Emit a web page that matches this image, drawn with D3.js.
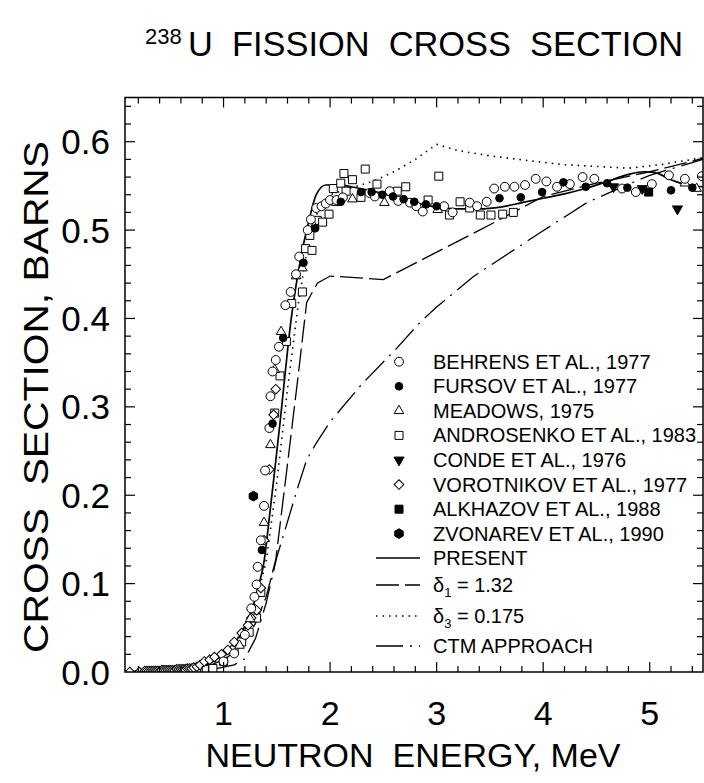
<!DOCTYPE html>
<html>
<head>
<meta charset="utf-8">
<script src="https://cdn.jsdelivr.net/npm/d3@7"></script>
<style>
  html, body { margin: 0; padding: 0; background: #fff; }
  svg { display: block; font-family: "Liberation Sans", Arial, sans-serif; }
</style>
</head>
<body>
<svg id="chart" width="704" height="783"></svg>
<script>
// ---- data: neutron energy (MeV) vs fission cross section (barns) ----
const energyTicks = [1, 2, 3, 4, 5];
const sigmaTicks = [0.0, 0.1, 0.2, 0.3, 0.4, 0.5, 0.6];

const behrens = [[1.0,0.012],[1.1,0.021],[1.2,0.042],[1.26,0.072],[1.29,0.085],[1.31,0.099],[1.32,0.119],
  [1.35,0.149],[1.38,0.188],[1.39,0.228],[1.43,0.276],[1.44,0.312],[1.46,0.34],[1.49,0.353],[1.52,0.368],
  [1.58,0.415],[1.63,0.43],[1.68,0.45],[1.71,0.47],[1.79,0.5],[1.82,0.512],[1.87,0.525],[1.92,0.527],
  [1.96,0.53],[2.0,0.534],[2.06,0.534],[2.12,0.537],[2.37,0.542],[2.42,0.538],[2.56,0.544],[2.64,0.533],
  [2.75,0.531],[2.81,0.527],[2.87,0.521],[3.07,0.527],[3.15,0.52],[3.31,0.531],[3.38,0.527],[3.47,0.532],
  [3.54,0.547],[3.64,0.549],[3.73,0.549],[3.83,0.551],[3.93,0.558],[4.03,0.555],[4.13,0.549],[4.25,0.552],
  [4.37,0.56],[4.48,0.558],[4.74,0.547],[4.87,0.543],[5.02,0.552],[5.18,0.562],[5.33,0.558],[5.49,0.561]];

const fursov = [[1.36,0.138],[1.46,0.281],[1.56,0.378],[1.75,0.463],[1.86,0.502],[2.10,0.532],[2.29,0.543],
  [2.39,0.543],[2.49,0.54],[2.59,0.538],[2.69,0.535],[2.79,0.532],[2.9,0.529],[3.0,0.527],[3.59,0.536],
  [3.79,0.537],[3.99,0.543],[4.19,0.554],[4.40,0.549],[4.60,0.553],[4.79,0.548],[5.2,0.545],[5.40,0.548]];

const meadows = [[1.15,0.03],[1.25,0.06],[1.38,0.169],[1.44,0.257],[1.48,0.342],[1.54,0.385],[1.68,0.448],
  [1.74,0.457],[1.85,0.504],[2.06,0.531],[2.21,0.535],[2.51,0.531],[3.01,0.523],[5.33,0.553],[5.44,0.547]];

const androsenko = [[0.34,0.001],[0.40,0.001],[0.46,0.002],[0.52,0.002],[0.58,0.002],[0.64,0.003],
  [0.70,0.003],[0.76,0.004],[0.82,0.003],[0.9,0.004],[1.0,0.012],[1.1,0.025],[1.17,0.034],[1.24,0.045],
  [1.31,0.061],[1.35,0.09],
  [1.48,0.293],[1.53,0.335],[1.59,0.374],[1.64,0.417],[1.74,0.43],[1.77,0.479],[1.83,0.477],[1.81,0.494],
  [1.88,0.511],[1.93,0.509],[1.99,0.518],[2.03,0.547],[2.10,0.553],[2.13,0.564],[2.15,0.544],[2.21,0.557],
  [2.29,0.537],[2.33,0.569],[2.44,0.552],[2.63,0.544],[2.71,0.549],[2.92,0.534],[3.02,0.561],[3.12,0.517],
  [3.22,0.532],[3.31,0.525],[3.41,0.517],[3.51,0.517],[3.62,0.518],[3.72,0.52]];

const conde = [[4.66,0.549],[4.93,0.547],[5.26,0.524]];

const vorotnikov = [[0.12,0.0],[0.21,0.0],[0.26,0.001],[0.28,0.001],[0.30,0.001],[0.32,0.001],[0.34,0.001],
  [0.36,0.001],[0.38,0.001],[0.40,0.001],[0.42,0.002],[0.44,0.002],[0.46,0.002],[0.48,0.002],[0.50,0.002],
  [0.52,0.002],[0.54,0.002],[0.56,0.003],[0.58,0.003],[0.60,0.003],[0.62,0.003],[0.64,0.003],[0.66,0.004],
  [0.68,0.004],[0.70,0.004],[0.72,0.005],[0.75,0.006],[0.78,0.008],[0.82,0.012],[0.87,0.014],[0.915,0.017],
  [0.98,0.02],[1.04,0.025],[1.10,0.034],[1.17,0.044],[1.23,0.053],[1.26,0.061],[1.31,0.07],[1.35,0.095],
  [1.38,0.149],[1.43,0.229],[1.47,0.291],[1.49,0.32]];

const alkhazov = [[4.99,0.543]];
const zvonarev = [[1.28,0.199]];

// ---- calculated curves ----
const present = [[0.075,0.0005],[0.4,0.001],[0.6,0.002],[0.8,0.006],[0.9,0.012],[1.0,0.02],[1.1,0.032],
  [1.2,0.052],[1.27,0.072],[1.33,0.098],[1.38,0.125],[1.43,0.175],[1.48,0.228],[1.53,0.282],[1.58,0.34],
  [1.63,0.395],[1.68,0.437],[1.74,0.478],[1.8,0.51],[1.87,0.54],[1.96,0.551],[2.1,0.551],[2.2,0.549],
  [2.4,0.544],[2.6,0.538],[2.8,0.531],[3.0,0.526],[3.2,0.524],[3.4,0.524],[3.6,0.526],[3.8,0.531],
  [4.0,0.536],[4.2,0.541],[4.4,0.547],[4.6,0.555],[4.8,0.563],[4.95,0.566],[5.05,0.565],[5.2,0.557],
  [5.35,0.551],[5.5,0.549]];

const delta1 = [[0.075,0.0005],[0.6,0.002],[0.8,0.005],[0.9,0.009],[1.0,0.014],[1.1,0.022],[1.2,0.035],
  [1.3,0.055],[1.4,0.085],[1.49,0.127],[1.6,0.235],[1.7,0.335],[1.78,0.418],[1.88,0.44],[2.0,0.448],
  [2.5,0.444],[3.0,0.475],[3.5,0.506],[4.0,0.538],[4.5,0.553],[5.0,0.566],[5.5,0.581]];

const delta3 = [[0.075,0.0005],[0.6,0.002],[0.8,0.005],[0.9,0.01],[1.0,0.017],[1.1,0.028],[1.2,0.047],
  [1.3,0.078],[1.4,0.125],[1.5,0.215],[1.6,0.32],[1.7,0.415],[1.8,0.49],[1.9,0.527],[2.0,0.54],
  [2.2,0.548],[2.4,0.555],[2.6,0.566],[2.8,0.58],[3.0,0.597],[3.2,0.59],[3.5,0.584],[3.9,0.578],
  [4.2,0.574],[4.5,0.572],[4.8,0.57],[5.1,0.574],[5.5,0.582]];

const ctm = [[0.075,0.0002],[0.6,0.001],[0.9,0.003],[1.1,0.008],[1.2,0.015],[1.3,0.038],[1.4,0.078],
  [1.5,0.13],[1.6,0.17],[1.7,0.21],[1.78,0.24],[1.87,0.259],[2.0,0.283],[2.3,0.326],[2.6,0.363],
  [2.84,0.395],[3.0,0.413],[3.34,0.447],[3.97,0.497],[4.41,0.531],[4.69,0.546],[5.0,0.562],[5.5,0.58]];

// ---- layout ----
const svg = d3.select("#chart");
const L = 125, R = 703, T = 97.5, B = 672;
const x = d3.scaleLinear().domain([0.075, 5.5]).range([L, R]);
const y = d3.scaleLinear().domain([0, 0.65]).range([B, T]);

const xMinor = d3.range(1, 28).map(i => +(i * 0.2).toFixed(1));
const yMinor = d3.range(1, 33).map(i => +(i * 0.02).toFixed(2));
const isMajor = v => Math.abs(v - Math.round(v)) < 1e-6;
const isMajorY = v => Math.abs(v * 10 - Math.round(v * 10)) < 1e-6;

// ---- curves ----
const line = d3.line().x(d => x(d[0])).y(d => y(d[1]));
const smooth = d3.line().x(d => x(d[0])).y(d => y(d[1])).curve(d3.curveMonotoneX);

svg.append("clipPath").attr("id", "plotArea")
  .append("rect").attr("x", L).attr("y", T).attr("width", R - L).attr("height", B - T);

const curves = svg.append("g").attr("clip-path", "url(#plotArea)").attr("fill", "none").attr("stroke", "#000");
const styles = {
  present: { w: 1.7, dash: null },
  delta1:  { w: 1.3, dash: "23,6" },
  delta3:  { w: 1.6, dash: "1.5,5" },
  ctm:     { w: 1.3, dash: "27,7,2,7" }
};
curves.append("path").datum(delta3).attr("d", line).attr("stroke-width", styles.delta3.w).attr("stroke-dasharray", styles.delta3.dash);
curves.append("path").datum(ctm).attr("d", line).attr("stroke-width", styles.ctm.w).attr("stroke-dasharray", styles.ctm.dash);
curves.append("path").datum(delta1).attr("d", line).attr("stroke-width", styles.delta1.w).attr("stroke-dasharray", styles.delta1.dash);
curves.append("path").datum(present).attr("d", smooth).attr("stroke-width", styles.present.w);

// ---- symbols ----
const hexagon = {
  draw(ctx, size) {
    const r = Math.sqrt(size / (1.5 * Math.sqrt(3)));
    for (let i = 0; i < 6; i++) {
      const a = Math.PI / 6 + i * Math.PI / 3;
      const px = r * Math.cos(a), py = r * Math.sin(a);
      i === 0 ? ctx.moveTo(px, py) : ctx.lineTo(px, py);
    }
    ctx.closePath();
  }
};
const markers = {
  behrens:    { type: d3.symbolCircle,   size: 62, fill: "#fff", rot: 0 },
  fursov:     { type: d3.symbolCircle,   size: 46, fill: "#000", rot: 0 },
  meadows:    { type: d3.symbolTriangle, size: 40, fill: "#fff", rot: 0 },
  androsenko: { type: d3.symbolSquare,   size: 64, fill: "#fff", rot: 0 },
  conde:      { type: d3.symbolTriangle, size: 44, fill: "#000", rot: 180 },
  vorotnikov: { type: d3.symbolSquare,   size: 46, fill: "#fff", rot: 45 },
  alkhazov:   { type: d3.symbolSquare,   size: 64, fill: "#000", rot: 0 },
  zvonarev:   { type: hexagon,           size: 62, fill: "#000", rot: 0 }
};
const series = [
  ["androsenko", androsenko], ["vorotnikov", vorotnikov], ["meadows", meadows], ["behrens", behrens],
  ["fursov", fursov], ["conde", conde], ["alkhazov", alkhazov], ["zvonarev", zvonarev]
];
const pts = svg.append("g").attr("clip-path", "url(#plotArea)");
series.forEach(([key, data]) => {
  const m = markers[key];
  pts.append("g").selectAll("path").data(data).join("path")
    .attr("d", d3.symbol().type(m.type).size(m.size))
    .attr("transform", d => `translate(${x(d[0])},${y(d[1])}) rotate(${m.rot})`)
    .attr("fill", m.fill).attr("stroke", "#000").attr("stroke-width", 1);
});

// ---- frame and ticks ----
const frame = svg.append("g").attr("stroke", "#000");
frame.append("rect").attr("x", L).attr("y", T).attr("width", R - L).attr("height", B - T)
  .attr("fill", "none").attr("stroke-width", 1.5);
const tk = frame.append("g").attr("stroke-width", 1.2);
xMinor.forEach(v => {
  const len = isMajor(v) ? 10 : 6;
  tk.append("line").attr("x1", x(v)).attr("x2", x(v)).attr("y1", B).attr("y2", B - len);
  tk.append("line").attr("x1", x(v)).attr("x2", x(v)).attr("y1", T).attr("y2", T + len);
});
yMinor.forEach(v => {
  const len = isMajorY(v) ? 10 : 6;
  tk.append("line").attr("x1", L).attr("x2", L + len).attr("y1", y(v)).attr("y2", y(v));
  tk.append("line").attr("x1", R).attr("x2", R - len).attr("y1", y(v)).attr("y2", y(v));
});

// ---- tick labels ----
const fmt = d3.format(".1f");
svg.append("g").selectAll("text").data(energyTicks).join("text")
  .attr("x", d => x(d)).attr("y", 725).attr("text-anchor", "middle")
  .attr("font-size", 34).text(d => d);
svg.append("g").selectAll("text").data(sigmaTicks).join("text")
  .attr("x", 110).attr("y", d => y(d) + 12.5).attr("text-anchor", "end")
  .attr("font-size", 35).text(d => fmt(d));

// ---- axis titles ----
svg.append("text").attr("x", 413).attr("y", 767).attr("text-anchor", "middle")
  .attr("font-size", 34).text("NEUTRON\u00A0\u00A0ENERGY, MeV");
svg.append("text").attr("transform", "translate(48,397) rotate(-90)").attr("text-anchor", "middle")
  .attr("font-size", 35).attr("textLength", 512).attr("lengthAdjust", "spacingAndGlyphs")
  .text("CROSS\u00A0\u00A0SECTION, BARNS");

// ---- title ----
svg.append("text").attr("x", 145).attr("y", 44).attr("font-size", 22).text("238");
svg.append("text").attr("x", 188).attr("y", 56).attr("font-size", 35)
  .attr("textLength", 495).attr("lengthAdjust", "spacingAndGlyphs")
  .text("U\u00A0\u00A0FISSION\u00A0\u00A0CROSS\u00A0\u00A0SECTION");

// ---- legend ----
const legendSymbols = [
  ["behrens", "BEHRENS ET AL., 1977", 361.7],
  ["fursov", "FURSOV ET AL., 1977", 386.3],
  ["meadows", "MEADOWS, 1975", 410.8],
  ["androsenko", "ANDROSENKO ET AL., 1983", 435.4],
  ["conde", "CONDE ET AL., 1976", 460],
  ["vorotnikov", "VOROTNIKOV ET AL., 1977", 484.6],
  ["alkhazov", "ALKHAZOV ET AL., 1988", 509.2],
  ["zvonarev", "ZVONAREV ET AL., 1990", 533.6]
];
const lg = svg.append("g").attr("font-size", 20);
legendSymbols.forEach(([key, label, ly]) => {
  const m = markers[key];
  lg.append("path").attr("d", d3.symbol().type(m.type).size(m.size)())
    .attr("transform", `translate(399,${ly}) rotate(${m.rot})`)
    .attr("fill", m.fill).attr("stroke", "#000").attr("stroke-width", 1);
  lg.append("text").attr("x", 433).attr("y", ly + 7).text(label);
});
const legendLines = [
  ["present", 558, "PRESENT", null, null],
  ["delta1", 585, "δ", "1", " = 1.32"],
  ["delta3", 616, "δ", "3", " = 0.175"],
  ["ctm", 646, "CTM APPROACH", null, null]
];
legendLines.forEach(([key, ly, main, sub, rest]) => {
  const s = styles[key];
  lg.append("line").attr("x1", 376).attr("x2", 420).attr("y1", ly).attr("y2", ly)
    .attr("stroke", "#000").attr("stroke-width", s.w).attr("stroke-dasharray", s.dash);
  const t = lg.append("text").attr("x", 433).attr("y", ly + 7);
  t.append("tspan").text(main);
  if (sub) {
    t.append("tspan").attr("font-size", 13).attr("dy", 5).text(sub);
    t.append("tspan").attr("dy", -5).text(rest);
  }
});
</script>
</body>
</html>
